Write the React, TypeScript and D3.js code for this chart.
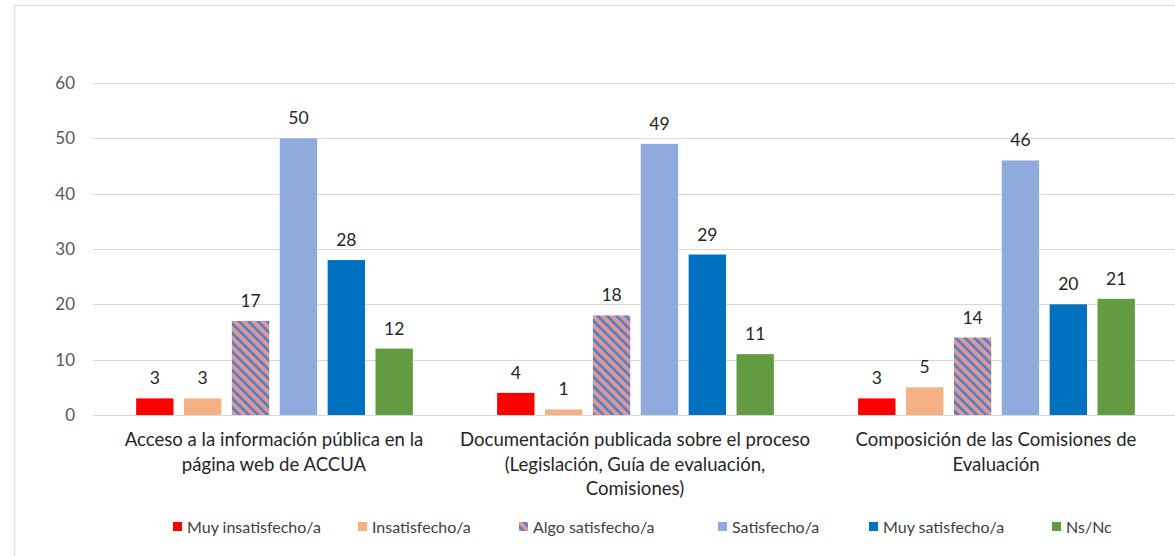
import React, { useRef, useEffect } from 'react';
import * as d3 from 'd3';

const categories = [
  ['Acceso a la información pública en la', 'página web de ACCUA'],
  ['Documentación publicada sobre el proceso', '(Legislación, Guía de evaluación,', 'Comisiones)'],
  ['Composición de las Comisiones de', 'Evaluación'],
];

const seriesNames = ['Muy insatisfecho/a', 'Insatisfecho/a', 'Algo satisfecho/a', 'Satisfecho/a', 'Muy satisfecho/a', 'Ns/Nc'];
const seriesColors = ['#ff0000', '#f4b183', 'url(#hatch)', '#8faadc', '#0070c0', '#629b41'];

const muyInsatisfecho = [3, 4, 3];
const insatisfecho = [3, 1, 5];
const algoSatisfecho = [17, 18, 14];
const satisfecho = [50, 49, 46];
const muySatisfecho = [28, 29, 20];
const nsnc = [12, 11, 21];

const yTicks = [0, 10, 20, 30, 40, 50, 60];

// legend x positions
const legendX = [173, 358, 519, 718, 869, 1052];

const FONT = 'Lato, "Noto Sans", sans-serif';

export default function App() {
  const svgRef = useRef<SVGSVGElement>(null);
  const width = 1175;
  const height = 556;
  const margin = { top: 83, right: -2, bottom: 141, left: 94 };

  useEffect(() => {
    const svg = d3.select(svgRef.current);
    svg.selectAll('*').remove();

    const values = [muyInsatisfecho, insatisfecho, algoSatisfecho, satisfecho, muySatisfecho, nsnc];

    const defs = svg.append('defs');
    const pat = defs.append('pattern')
      .attr('id', 'hatch')
      .attr('patternUnits', 'userSpaceOnUse')
      .attr('width', 6.6)
      .attr('height', 6.6)
      .attr('patternTransform', 'rotate(-45)');
    pat.append('rect').attr('width', 6.6).attr('height', 6.6).attr('fill', '#e09795');
    pat.append('rect').attr('width', 2.6).attr('height', 6.6).attr('fill', '#4a7fca');

    // outer border
    svg.append('rect')
      .attr('x', 14.5).attr('y', 5.5)
      .attr('width', width).attr('height', height)
      .attr('fill', 'none')
      .attr('stroke', '#e2e2e2')
      .attr('stroke-width', 1.5);

    const x0 = d3.scaleBand<number>()
      .domain(d3.range(categories.length))
      .range([margin.left, width - margin.right]);

    const x1 = d3.scaleBand<number>()
      .domain(d3.range(seriesNames.length))
      .range([0, x0.bandwidth()])
      .paddingInner(0.22)
      .paddingOuter(0.88);

    const y = d3.scaleLinear()
      .domain([0, 60])
      .range([height - margin.bottom, margin.top]);

    // gridlines
    svg.append('g')
      .selectAll('line')
      .data(yTicks)
      .join('line')
      .attr('x1', margin.left - 1)
      .attr('x2', width)
      .attr('y1', d => Math.round(y(d)) + 0.5)
      .attr('y2', d => Math.round(y(d)) + 0.5)
      .attr('stroke', '#d9d9d9')
      .attr('stroke-width', 1);

    // y axis labels
    svg.append('g')
      .attr('transform', `translate(${margin.left - 19},0)`)
      .call(d3.axisLeft(y).tickValues(yTicks).tickSize(0).tickPadding(0))
      .call(g => g.select('.domain').remove())
      .call(g => g.selectAll('.tick text')
        .attr('font-size', 17)
        .attr('font-family', FONT)
        .attr('fill', '#595959'));

    // bars
    values.forEach((vals, s) => {
      const g = svg.append('g');
      g.selectAll('rect')
        .data(vals)
        .join('rect')
        .attr('x', (d, i) => x0(i)! + x1(s)!)
        .attr('y', d => y(d))
        .attr('width', x1.bandwidth())
        .attr('height', d => y(0) - y(d))
        .attr('fill', seriesColors[s]);
      g.selectAll('text')
        .data(vals)
        .join('text')
        .attr('x', (d, i) => x0(i)! + x1(s)! + x1.bandwidth() / 2)
        .attr('y', d => y(d) - 14)
        .attr('text-anchor', 'middle')
        .attr('font-size', 17.5)
        .attr('font-family', FONT)
        .attr('fill', '#262626')
        .text(d => d);
    });

    // category labels
    categories.forEach((lines, i) => {
      const t = svg.append('text')
        .attr('x', x0(i)! + x0.bandwidth() / 2 - 0.5)
        .attr('y', 446)
        .attr('text-anchor', 'middle')
        .attr('font-size', 18.6)
        .attr('font-family', FONT)
        .attr('fill', '#262626');
      lines.forEach((ln, k) => {
        t.append('tspan')
          .attr('x', x0(i)! + x0.bandwidth() / 2 - 0.5)
          .attr('dy', k === 0 ? 0 : 24.5)
          .text(ln);
      });
    });

    // legend
    const legend = svg.append('g');
    seriesNames.forEach((name, s) => {
      legend.append('rect')
        .attr('x', legendX[s])
        .attr('y', 522)
        .attr('width', 9)
        .attr('height', 9)
        .attr('fill', seriesColors[s]);
      legend.append('text')
        .attr('x', legendX[s] + 14)
        .attr('y', 532.5)
        .attr('font-size', 16)
        .attr('font-family', FONT)
        .attr('fill', '#404040')
        .text(name);
    });
  }, []);

  return (
    <div style={{ position: 'absolute', left: 0, top: 0, background: '#fff' }}>
      <svg ref={svgRef} width={width} height={height} style={{ display: 'block' }} />
    </div>
  );
}
